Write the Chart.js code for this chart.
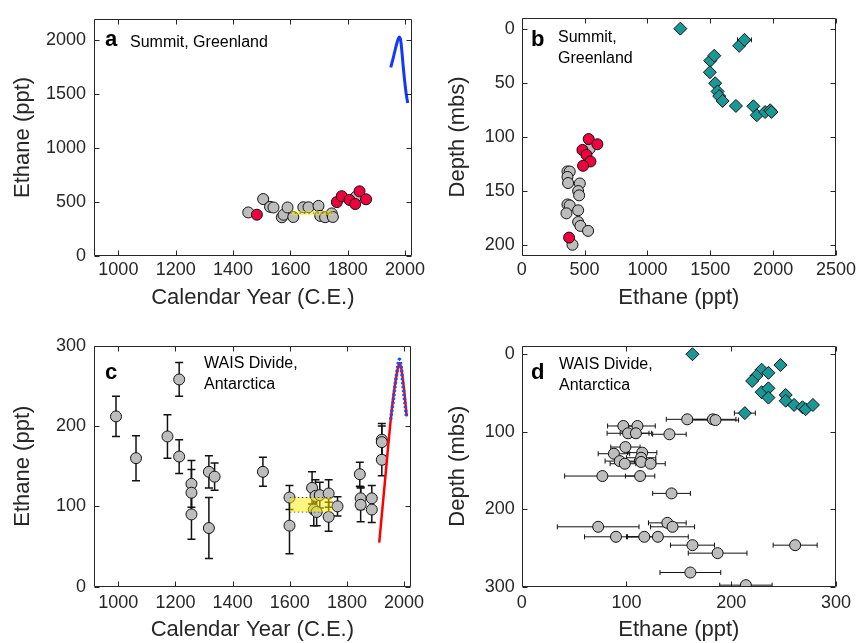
<!DOCTYPE html>
<html>
<head>
<meta charset="utf-8">
<title>Ethane - Summit and WAIS Divide</title>
<script src="https://cdn.jsdelivr.net/npm/chart.js@4.4.0/dist/chart.umd.min.js"></script>
<style>
  html, body { margin: 0; padding: 0; background: #fff; }
  body { width: 861px; height: 643px; position: relative; overflow: hidden;
         font-family: "Liberation Sans", Arial, sans-serif; }
  .panel { position: absolute; }
  .tag { position: absolute; font-weight: bold; font-size: 22px; line-height: 22px; color: #000; }
  .site { position: absolute; font-size: 16px; line-height: 21px; color: #000; white-space: nowrap; }
</style>
</head>
<body>
<div class="panel" style="left:0;top:0;width:430px;height:320px"><canvas id="chart-a"></canvas></div>
<div class="panel" style="left:430px;top:0;width:431px;height:320px"><canvas id="chart-b"></canvas></div>
<div class="panel" style="left:0;top:320px;width:430px;height:323px"><canvas id="chart-c"></canvas></div>
<div class="panel" style="left:430px;top:320px;width:431px;height:323px"><canvas id="chart-d"></canvas></div>

<div class="tag" style="left:105px;top:28px">a</div>
<div class="site" style="left:130px;top:31px">Summit, Greenland</div>
<div class="tag" style="left:531px;top:28px">b</div>
<div class="site" style="left:558px;top:26px">Summit,<br>Greenland</div>
<div class="tag" style="left:105px;top:361px">c</div>
<div class="site" style="left:204px;top:352px">WAIS Divide,<br>Antarctica</div>
<div class="tag" style="left:531px;top:361px">d</div>
<div class="site" style="left:559px;top:353px">WAIS Divide,<br>Antarctica</div>

<script>
// ---- tick labels ----
const YEAR_TICKS = [1000, 1200, 1400, 1600, 1800, 2000];
const A_PPT_TICKS = [0, 500, 1000, 1500, 2000];
const B_PPT_TICKS = [0, 500, 1000, 1500, 2000, 2500];
const B_DEPTH_TICKS = [0, 50, 100, 150, 200];
const C_PPT_TICKS = [0, 100, 200, 300];
const D_PPT_TICKS = [0, 100, 200, 300];
const D_DEPTH_TICKS = [0, 100, 200, 300];

// ---- a: Summit, ethane vs calendar year ----
const A_GRAY_YEAR = [1453, 1505, 1529, 1541, 1570, 1576, 1590, 1610, 1645, 1663, 1698, 1704, 1721, 1744, 1748, 1829];
const A_GRAY_PPT = [404, 528, 456, 450, 359, 383, 450, 362, 452, 452, 465, 372, 360, 395, 362, 550];
const A_RED_YEAR = [1483, 1762, 1779, 1806, 1826, 1841, 1864];
const A_RED_PPT = [383, 500, 555, 520, 482, 600, 526];
const A_FIRN_YEAR = [1950, 1958, 1966, 1973, 1979, 1984, 1989, 1994, 1999, 2004, 2009];
const A_FIRN_PPT = [1750, 1830, 1920, 1990, 2030, 2010, 1890, 1740, 1610, 1500, 1420];
const A_BAND_YEAR = [1600, 1750];
const A_BAND_LOW = [378, 378];
const A_BAND_HIGH = [418, 418];
const A_BAND_MID = [398, 398];

// ---- b: Summit, depth profile ----
const B_FIRN_PPT = [1262, 1730, 1772, 1500, 1532, 1497, 1539, 1558, 1571, 1598, 1704, 1843, 1870, 1936, 1976, 1986];
const B_FIRN_DEPTH = [0, 15.9, 10.4, 29.6, 25, 40.3, 50.4, 58, 62.3, 66.8, 71.4, 71.7, 80, 77, 75.4, 77];
const B_FIRN_ERR = [0, 0, 55, 0, 0, 0, 0, 0, 0, 0, 0, 0, 0, 0, 0, 0];
const B_RED_PPT = [533, 602, 483, 515, 547, 488, 377];
const B_RED_DEPTH = [102, 106.8, 112, 116.6, 122.7, 126.7, 193];
const B_GRAY_PPT = [540, 364, 382, 364, 369, 462, 449, 457, 364, 382, 356, 449, 449, 467, 528, 404];
const B_GRAY_DEPTH = [111, 131.9, 132, 137, 142.6, 143, 150, 154, 162.4, 163.3, 170.6, 167.8, 178.6, 182.2, 186.8, 199.6];

// ---- c: WAIS Divide, ethane vs calendar year ----
const C_YEAR = [992, 1062, 1172, 1213, 1213, 1256, 1256, 1256, 1317, 1317, 1337, 1506, 1599, 1599, 1678,
                1684, 1690, 1694, 1705, 1736, 1736, 1767, 1845, 1848, 1848, 1887, 1887, 1922, 1922, 1922];
const C_PPT = [212, 160, 187, 258, 162, 128, 117, 90, 143, 73, 137, 143, 111, 76, 123,
               96, 113, 93, 114, 116, 87, 100, 140, 110, 102, 110, 96, 183, 180, 158];
const C_ERR = [25, 28, 27, 21, 21, 29, 29, 31, 20, 38, 17, 18, 15, 35, 20,
               20, 20, 17, 16, 17, 18, 12, 15, 14, 21, 16, 16, 20, 20, 20];
const C_MODEL_YEAR = [1913, 1923, 1933, 1943, 1953, 1963, 1973, 1983, 1990, 2000, 2009];
const C_MODEL_PPT = [55, 93, 131, 170, 207, 238, 262, 278, 272, 245, 212];
const C_FIRN_YEAR = [1953, 1962, 1970, 1977, 1983, 1989, 1995, 2002, 2009];
const C_FIRN_PPT = [208, 232, 255, 272, 283, 275, 255, 232, 210];
const C_BAND_YEAR = [1600, 1750];
const C_BAND_LOW = [93, 93];
const C_BAND_HIGH = [111, 111];

// ---- d: WAIS Divide, depth profile ----
const D_FIRN_PPT = [163, 247, 229, 235.5, 224, 220, 229, 235.5, 235.5, 252, 252, 260, 268, 271, 278, 213];
const D_FIRN_DEPTH = [0, 14, 20, 24, 28, 34.5, 49, 44, 56, 52.6, 60, 65.5, 68.5, 71, 65.5, 76];
const D_FIRN_ERR = [0, 0, 0, 0, 0, 0, 0, 0, 0, 0, 0, 0, 0, 0, 0, 10];
const D_ICE_PPT = [158, 182.5, 185, 97, 110.5, 101.5, 109, 141, 99, 88, 115, 114, 93.6, 98.4, 114,
                   123, 77, 113, 143, 73, 139, 144, 90, 117, 130, 163, 261, 187, 161, 214];
const D_ICE_DEPTH = [84, 84, 85, 92.6, 92.6, 102, 102, 103.3, 119.8, 128.4, 127, 133.6, 137.9, 141.3, 139,
                     141.3, 157.2, 157.2, 179.6, 222.7, 217.6, 222.7, 235.6, 235.6, 235.6, 246.4, 246.4, 256.7, 281.7, 298];
const D_ICE_ERR = [20, 22, 22, 15, 17, 20, 15, 16, 14, 15, 14, 14, 14, 14, 14,
                   14, 36, 14, 18, 39, 18, 21, 30, 17, 29, 21, 21, 28, 29, 25];

const FONT = '"Liberation Sans", Arial, sans-serif';
const INK = '#262626';
const GRAY = '#bdbdbd';
const RED = '#f0003c';
const TEAL = '#1a9898';

function pts(xs, ys) {
    return xs.map((x, i) => ({ x: x, y: ys[i] }));
}

function markers(xs, ys, fill, opts = {}) {
    const diamond = opts.style === 'rectRot';
    return Object.assign({
        data: pts(xs, ys),
        showLine: false,
        pointStyle: opts.style || 'circle',
        pointRadius: diamond ? 6.5 : 5.5,
        pointBackgroundColor: fill,
        pointBorderColor: '#111',
        pointBorderWidth: 1
    }, opts.extra || {});
}

function line(xs, ys, color, width, extra = {}) {
    return Object.assign({
        data: pts(xs, ys),
        showLine: true,
        borderColor: color,
        borderWidth: width,
        pointRadius: 0,
        tension: 0.35,
        fill: false
    }, extra);
}

function axis(o) {
    return {
        type: 'linear',
        min: o.min,
        max: o.max,
        reverse: !!o.reverse,
        afterBuildTicks(scale) {
            scale.ticks = o.ticks.map((v) => ({ value: v }));
        },
        afterFit(scale) {
            if (scale.isHorizontal()) scale.height = o.size;
            else scale.width = o.size;
        },
        grid: { display: false, drawTicks: false },
        border: { display: false },
        ticks: {
            color: INK,
            font: { family: FONT, size: 18 },
            padding: o.tickPad,
            maxRotation: 0,
            autoSkip: false,
            callback: (v) => String(v)
        },
        title: {
            display: true,
            text: o.title,
            color: INK,
            font: { family: FONT, size: 22 },
            padding: o.titlePad
        }
    };
}

// frame with inward ticks on all four sides (MATLAB style)
const framePlugin = {
    id: 'frame',
    afterDatasetsDraw(chart) {
        const { ctx, chartArea: a, scales } = chart;
        const L = Math.round(a.left) + 0.5, R = Math.round(a.right) - 0.5;
        const T = Math.round(a.top) + 0.5, B = Math.round(a.bottom) - 0.5;
        const len = 5;
        ctx.save();
        ctx.strokeStyle = INK;
        ctx.lineWidth = 1;
        ctx.beginPath();
        ctx.rect(L, T, R - L, B - T);
        scales.x.ticks.forEach((t) => {
            const px = Math.round(scales.x.getPixelForValue(t.value)) + 0.5;
            ctx.moveTo(px, B); ctx.lineTo(px, B - len);
            ctx.moveTo(px, T); ctx.lineTo(px, T + len);
        });
        scales.y.ticks.forEach((t) => {
            const py = Math.round(scales.y.getPixelForValue(t.value)) + 0.5;
            ctx.moveTo(L, py); ctx.lineTo(L + len, py);
            ctx.moveTo(R, py); ctx.lineTo(R - len, py);
        });
        ctx.stroke();
        ctx.restore();
    }
};

// error bars from dataset.errorX / dataset.errorY, drawn under the markers
const errorBarPlugin = {
    id: 'errorBars',
    beforeDatasetsDraw(chart) {
        const { ctx, chartArea: a, scales: { x, y } } = chart;
        ctx.save();
        ctx.beginPath();
        ctx.rect(a.left, a.top, a.width, a.height);
        ctx.clip();
        chart.data.datasets.forEach((ds) => {
            if (!ds.errorX && !ds.errorY) return;
            const cap = ds.errorCap || 3;
            ctx.strokeStyle = ds.errorColor || '#111';
            ctx.lineWidth = ds.errorWidth || 1;
            ds.data.forEach((p, i) => {
                const px = x.getPixelForValue(p.x);
                const py = y.getPixelForValue(p.y);
                ctx.beginPath();
                if (ds.errorY && ds.errorY[i]) {
                    const t = y.getPixelForValue(p.y + ds.errorY[i]);
                    const b = y.getPixelForValue(p.y - ds.errorY[i]);
                    ctx.moveTo(px, t); ctx.lineTo(px, b);
                    ctx.moveTo(px - cap, t); ctx.lineTo(px + cap, t);
                    ctx.moveTo(px - cap, b); ctx.lineTo(px + cap, b);
                }
                if (ds.errorX && ds.errorX[i]) {
                    const l = x.getPixelForValue(p.x - ds.errorX[i]);
                    const r = x.getPixelForValue(p.x + ds.errorX[i]);
                    ctx.moveTo(l, py); ctx.lineTo(r, py);
                    ctx.moveTo(l, py - cap); ctx.lineTo(l, py + cap);
                    ctx.moveTo(r, py - cap); ctx.lineTo(r, py + cap);
                }
                ctx.stroke();
            });
        });
        ctx.restore();
    }
};

function makeChart(id, datasets, xAxis, yAxis, padding) {
    return new Chart(document.getElementById(id), {
        type: 'scatter',
        data: { datasets: datasets },
        options: {
            responsive: true,
            maintainAspectRatio: false,
            animation: false,
            events: [],
            layout: { padding: padding },
            plugins: { legend: { display: false }, tooltip: { enabled: false } },
            scales: { x: xAxis, y: yAxis }
        },
        plugins: [errorBarPlugin, framePlugin]
    });
}

const BAND_FILL = 'rgba(255, 238, 0, 0.5)';

// panel a (dataset 0 is drawn on top)
makeChart('chart-a', [
    line(A_FIRN_YEAR, A_FIRN_PPT, '#1238ff', 3),
    line(A_BAND_YEAR, A_BAND_MID, '#555', 1, { borderDash: [1.5, 3], tension: 0 }),
    line(A_BAND_YEAR, A_BAND_HIGH, 'rgba(0,0,0,0)', 0, { fill: '+1', backgroundColor: BAND_FILL, tension: 0 }),
    line(A_BAND_YEAR, A_BAND_LOW, 'rgba(0,0,0,0)', 0, { tension: 0 }),
    markers(A_RED_YEAR, A_RED_PPT, RED),
    markers(A_GRAY_YEAR, A_GRAY_PPT, GRAY)
], axis({ min: 915, max: 2023, ticks: YEAR_TICKS, size: 64, tickPad: 3, title: 'Calendar Year (C.E.)', titlePad: { top: 0, bottom: 9 } }),
   axis({ min: 0, max: 2200, ticks: A_PPT_TICKS, size: 94, tickPad: 8, title: 'Ethane (ppt)', titlePad: { top: 10, bottom: 0 } }),
   { top: 15, right: 18.3, left: 0, bottom: 0 });

// panel b
makeChart('chart-b', [
    markers(B_FIRN_PPT, B_FIRN_DEPTH, TEAL, { style: 'rectRot', extra: { errorX: B_FIRN_ERR, errorCap: 2.5 } }),
    markers(B_RED_PPT, B_RED_DEPTH, RED),
    markers(B_GRAY_PPT, B_GRAY_DEPTH, GRAY)
], axis({ min: 0, max: 2500, ticks: B_PPT_TICKS, size: 64, tickPad: 3, title: 'Ethane (ppt)', titlePad: { top: 0, bottom: 9 } }),
   axis({ min: -10, max: 210, reverse: true, ticks: B_DEPTH_TICKS, size: 91.7, tickPad: 7, title: 'Depth (mbs)', titlePad: { top: 15, bottom: 0 } }),
   { top: 15, right: 25, left: 0, bottom: 0 });

// panel c
makeChart('chart-c', [
    line(C_FIRN_YEAR, C_FIRN_PPT, '#1a4dff', 3.5, { borderDash: [2, 2] }),
    line(C_MODEL_YEAR, C_MODEL_PPT, '#ff0000', 2.5),
    line(C_BAND_YEAR, C_BAND_HIGH, '#444', 1, { fill: '+1', backgroundColor: BAND_FILL, borderDash: [1.5, 2.5], tension: 0 }),
    line(C_BAND_YEAR, C_BAND_LOW, '#444', 1, { borderDash: [1.5, 2.5], tension: 0 }),
    markers(C_YEAR, C_PPT, GRAY, { extra: { errorY: C_ERR, errorCap: 4, errorWidth: 1.5 } })
], axis({ min: 915, max: 2023, ticks: YEAR_TICKS, size: 56.3, tickPad: 5.5, title: 'Calendar Year (C.E.)', titlePad: { top: 0, bottom: 0 } }),
   axis({ min: 0, max: 300, ticks: C_PPT_TICKS, size: 94, tickPad: 8, title: 'Ethane (ppt)', titlePad: { top: 10, bottom: 0 } }),
   { top: 25.7, right: 18.3, left: 0, bottom: 0 });

// panel d
makeChart('chart-d', [
    markers(D_FIRN_PPT, D_FIRN_DEPTH, TEAL, { style: 'rectRot', extra: { errorX: D_FIRN_ERR, errorCap: 2.5 } }),
    markers(D_ICE_PPT, D_ICE_DEPTH, GRAY, { extra: { errorX: D_ICE_ERR, errorCap: 2.5, clip: 0 } })
], axis({ min: 0, max: 300, ticks: D_PPT_TICKS, size: 56.3, tickPad: 5.5, title: 'Ethane (ppt)', titlePad: { top: 0, bottom: 0 } }),
   axis({ min: -11, max: 300, reverse: true, ticks: D_DEPTH_TICKS, size: 91.7, tickPad: 7, title: 'Depth (mbs)', titlePad: { top: 15, bottom: 0 } }),
   { top: 25.7, right: 25, left: 0, bottom: 0 });
</script>
</body>
</html>
